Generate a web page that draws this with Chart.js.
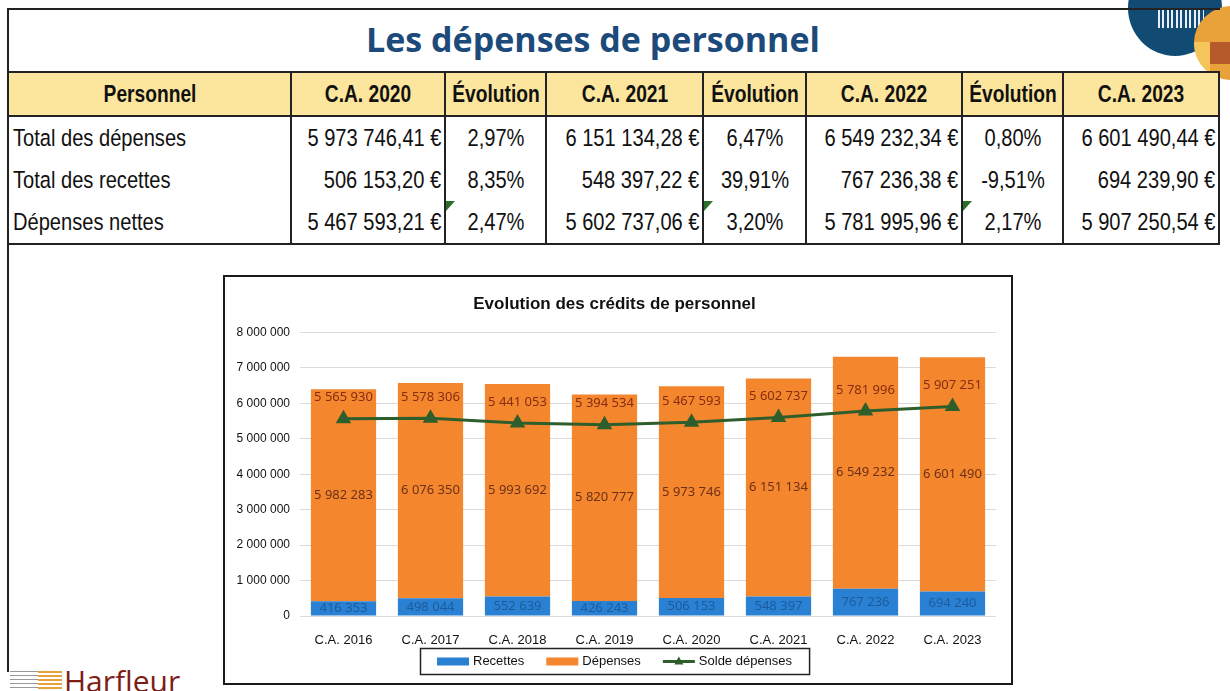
<!DOCTYPE html>
<html><head><meta charset="utf-8">
<script src="https://cdn.jsdelivr.net/npm/chart.js@4.4.1/dist/chart.umd.min.js"></script>
<style>
html,body{margin:0;padding:0;background:#fff;width:1230px;height:691px;overflow:hidden;}
body{position:relative;font-family:"Liberation Sans",Arial,sans-serif;}
#frame{position:absolute;left:7px;top:8px;width:1213px;height:664px;border-left:2px solid #222;border-top:2px solid #222;box-sizing:border-box;}
#title{position:absolute;left:0;top:14px;width:1186px;text-align:center;font-family:"Open Sans","Noto Sans",sans-serif;font-weight:700;font-size:34px;color:#1c4a7a;line-height:50px;}
#tbl{position:absolute;left:7px;top:71px;width:1211px;border-collapse:collapse;table-layout:fixed;font-family:"Liberation Sans",Arial,sans-serif;color:#111;}
#tbl th,#tbl td{position:relative;padding:0;white-space:nowrap;}
#tbl th{background:#fce59c;height:42px;border:2px solid #222;}
#tbl td{height:42px;border-left:2px solid #222;border-right:2px solid #222;}
#tbl tr:last-child td{border-bottom:2px solid #222;}
#tbl span{position:absolute;top:50%;white-space:nowrap;}
#tbl th span{font-weight:700;font-size:24px;left:50%;transform:translate(-50%,-50%) scaleX(0.8);}
#tbl td span{font-size:24.5px;}
#tbl td.lbl span{left:4px;transform-origin:left center;transform:translateY(-50%) scaleX(0.82);}
#tbl td.amt span{right:3px;transform-origin:right center;transform:translateY(-50%) scaleX(0.82);}
#tbl td.ev span{left:50%;transform:translate(-50%,-50%) scaleX(0.82);}
.tri{position:absolute;left:0;top:0;width:0;height:0;border-top:10px solid #2a6e2a;border-right:9px solid transparent;}
#chartbox{position:absolute;left:223px;top:275px;width:790px;height:410px;border:2px solid #1a1a1a;box-sizing:border-box;background:#fff;}
#logo1{position:absolute;left:1128px;top:-40px;width:94px;height:96px;border-radius:50%;background:#114b73;overflow:hidden;}
#stripes{position:absolute;left:1158px;top:8px;width:46px;height:20px;background:repeating-linear-gradient(90deg,#e8eef5 0 2px,transparent 2px 4.5px);}
#logo2{position:absolute;left:1194px;top:6px;width:76px;height:74px;border-radius:50%;background:#e9a23a;overflow:hidden;}
#logo2 .q{position:absolute;left:16px;top:36px;width:22px;height:22px;background:#b5582a;}
#logo2 .l{position:absolute;left:0;top:36px;width:16px;height:40px;background:#f5c45a;}
#harf{position:absolute;left:64px;top:664px;font-family:"Open Sans","Noto Sans",sans-serif;font-size:30px;color:#7e1c16;line-height:34px;}
#harfl{position:absolute;left:10px;top:671px;width:52px;height:20px;background:repeating-linear-gradient(180deg,#e9a23a 0 2px,#fff 2px 4px);}
#harfl2{position:absolute;left:10px;top:671px;width:28px;height:20px;background:repeating-linear-gradient(180deg,#999 0 1px,#fff 1px 4px);}
</style>
</head><body>
<div id="logo1"></div><div id="stripes"></div>
<div id="logo2"><div class="l"></div><div class="q"></div></div>
<div id="frame"></div>
<div id="title">Les dépenses de personnel</div>
<table id="tbl"></table>
<div id="chartbox"><canvas id="c" width="786" height="406"></canvas></div>
<div id="harfl"></div><div id="harfl2"></div>
<div id="harf">Harfleur</div>
<script>
// ---- table data ----
const tableHeader = ['Personnel','C.A. 2020','Évolution','C.A. 2021','Évolution','C.A. 2022','Évolution','C.A. 2023'];
const colWidths = [283,154,101,157,103,156,101,156];
const rowLabels = ['Total des dépenses','Total des recettes','Dépenses nettes'];
const rowDepenses = ['5 973 746,41 €','2,97%','6 151 134,28 €','6,47%','6 549 232,34 €','0,80%','6 601 490,44 €'];
const rowRecettes = ['506 153,20 €','8,35%','548 397,22 €','39,91%','767 236,38 €','-9,51%','694 239,90 €'];
const rowNettes = ['5 467 593,21 €','2,47%','5 602 737,06 €','3,20%','5 781 995,96 €','2,17%','5 907 250,54 €'];

// ---- chart data ----
const categories = ['C.A. 2016','C.A. 2017','C.A. 2018','C.A. 2019','C.A. 2020','C.A. 2021','C.A. 2022','C.A. 2023'];
const recettes = [416353,498044,552639,426243,506153,548397,767236,694240];
const depenses = [5982283,6076350,5993692,5820777,5973746,6151134,6549232,6601490];
const solde = [5565930,5578306,5441053,5394534,5467593,5602737,5781996,5907251];
const yTicks = [0,1000000,2000000,3000000,4000000,5000000,6000000,7000000,8000000];

// build table
(function(){
  const t = document.getElementById('tbl');
  const cg = document.createElement('colgroup');
  colWidths.forEach(w=>{const c=document.createElement('col');c.style.width=w+'px';cg.appendChild(c);});
  t.appendChild(cg);
  const mk=(tag,cls,txt)=>{const e=document.createElement(tag);if(cls)e.className=cls;const s=document.createElement('span');s.textContent=txt.replace(/ /g,'\u00a0');e.appendChild(s);return e;};
  const hr = document.createElement('tr');
  tableHeader.forEach(h=>hr.appendChild(mk('th','',h)));
  t.appendChild(hr);
  [rowDepenses,rowRecettes,rowNettes].forEach((row,ri)=>{
    const tr=document.createElement('tr');
    tr.appendChild(mk('td','lbl',rowLabels[ri]));
    row.forEach((v,ci)=>{
      const td=mk('td',(ci%2===0)?'amt':'ev',v);
      if(ri===2 && ci%2===1){const tri=document.createElement('div');tri.className='tri';td.appendChild(tri);}
      tr.appendChild(td);
    });
    t.appendChild(tr);
  });
})();

const fmt = v => String(Math.round(v)).replace(/\B(?=(\d{3})+(?!\d))/g,' ');

const BLUE='#2a80d2', ORANGE='#f4862e', GREEN='#2e5e2c';

const labelPlugin = {
  id:'valueLabels',
  afterDatasetsDraw(chart){
    const ctx=chart.ctx;
    ctx.save();
    ctx.font='13px "Noto Sans","Open Sans",sans-serif';
    ctx.textAlign='center';ctx.textBaseline='middle';
    chart.data.datasets.forEach((ds,di)=>{
      const meta=chart.getDatasetMeta(di);
      meta.data.forEach((el,i)=>{
        const txt=fmt(ds.data[i]);
        if(ds.type==='line'){
          ctx.fillStyle='#862d12';
          ctx.fillText(txt,el.x,el.y-21);
        } else {
          ctx.fillStyle = di===0 ? '#1c5c9c' : '#6e3016';
          ctx.fillText(txt,el.x,(el.y+el.base)/2);
        }
      });
    });
    ctx.restore();
  }
};

const legendPlugin = {
  id:'boxLegend',
  afterDraw(chart){
    const ctx=chart.ctx, ca=chart.chartArea;
    ctx.save();
    ctx.font='13px "Liberation Sans",Arial,sans-serif';
    const sym=32, gapT=4, gapI=22, pad=17;
    const items=chart.data.datasets.map(ds=>({ds,w:ctx.measureText(ds.label).width}));
    let total=0; items.forEach((it,i)=>{total+=sym+gapT+it.w+(i<items.length-1?gapI:0);});
    const bw=total+pad*2, bh=26;
    const bx=Math.round(chart.width/2-bw/2)-3, by=Math.round(ca.bottom+32);
    ctx.strokeStyle='#222';ctx.lineWidth=1.5;
    ctx.strokeRect(bx+0.5,by+0.5,bw,bh);
    let x=bx+pad; const cy=by+bh/2+0.5;
    ctx.textBaseline='middle';ctx.textAlign='left';
    items.forEach(it=>{
      const ds=it.ds;
      if(ds.type==='line'){
        ctx.strokeStyle=ds.borderColor;ctx.lineWidth=3;
        ctx.beginPath();ctx.moveTo(x,cy);ctx.lineTo(x+sym,cy);ctx.stroke();
        ctx.fillStyle=ds.borderColor;
        ctx.beginPath();ctx.moveTo(x+sym/2,cy-5);ctx.lineTo(x+sym/2+4.5,cy+3);ctx.lineTo(x+sym/2-4.5,cy+3);ctx.closePath();ctx.fill();
      } else {
        ctx.fillStyle=ds.backgroundColor;
        ctx.fillRect(x,cy-4,sym,8);
      }
      x+=sym+gapT;
      ctx.fillStyle='#111';
      ctx.fillText(ds.label,x,cy);
      x+=it.w+gapI;
    });
    ctx.restore();
  }
};

new Chart(document.getElementById('c'),{
  data:{
    labels:categories,
    datasets:[
      {type:'bar',label:'Recettes',data:recettes,backgroundColor:BLUE,stack:'s',order:1,barPercentage:0.75,categoryPercentage:1.0},
      {type:'bar',label:'Dépenses',data:depenses,backgroundColor:ORANGE,stack:'s',order:2,barPercentage:0.75,categoryPercentage:1.0},
      {type:'line',label:'Solde dépenses',data:solde,borderColor:GREEN,backgroundColor:GREEN,borderWidth:3,stack:'line',order:0,
       pointStyle:'triangle',pointRadius:6,pointBackgroundColor:GREEN,pointBorderColor:GREEN,tension:0}
    ]
  },
  options:{
    responsive:false,animation:false,
    layout:{padding:{left:8,right:15,top:5,bottom:39}},
    plugins:{
      legend:{display:false},tooltip:{enabled:false},
      title:{display:true,text:'Evolution des crédits de personnel',color:'#111',
        font:{family:'"Liberation Sans",Arial,sans-serif',size:17,weight:'bold'},padding:{top:12,bottom:18}}
    },
    scales:{
      x:{stacked:true,grid:{display:false},border:{display:false},
        ticks:{color:'#111',padding:9,font:{family:'"Liberation Sans",Arial,sans-serif',size:13}},
        afterFit(s){s.height=28;}},
      y:{stacked:true,min:0,max:8000000,
        afterBuildTicks(s){s.ticks=yTicks.map(v=>({value:v}));},
        grid:{color:'#dadada',drawTicks:false},border:{display:false},
        ticks:{color:'#111',padding:10,font:{family:'"Liberation Sans",Arial,sans-serif',size:12},callback:v=>fmt(v)},
        afterFit(s){s.width=67;}}
    }
  },
  plugins:[labelPlugin,legendPlugin]
});
</script>
</body></html>
